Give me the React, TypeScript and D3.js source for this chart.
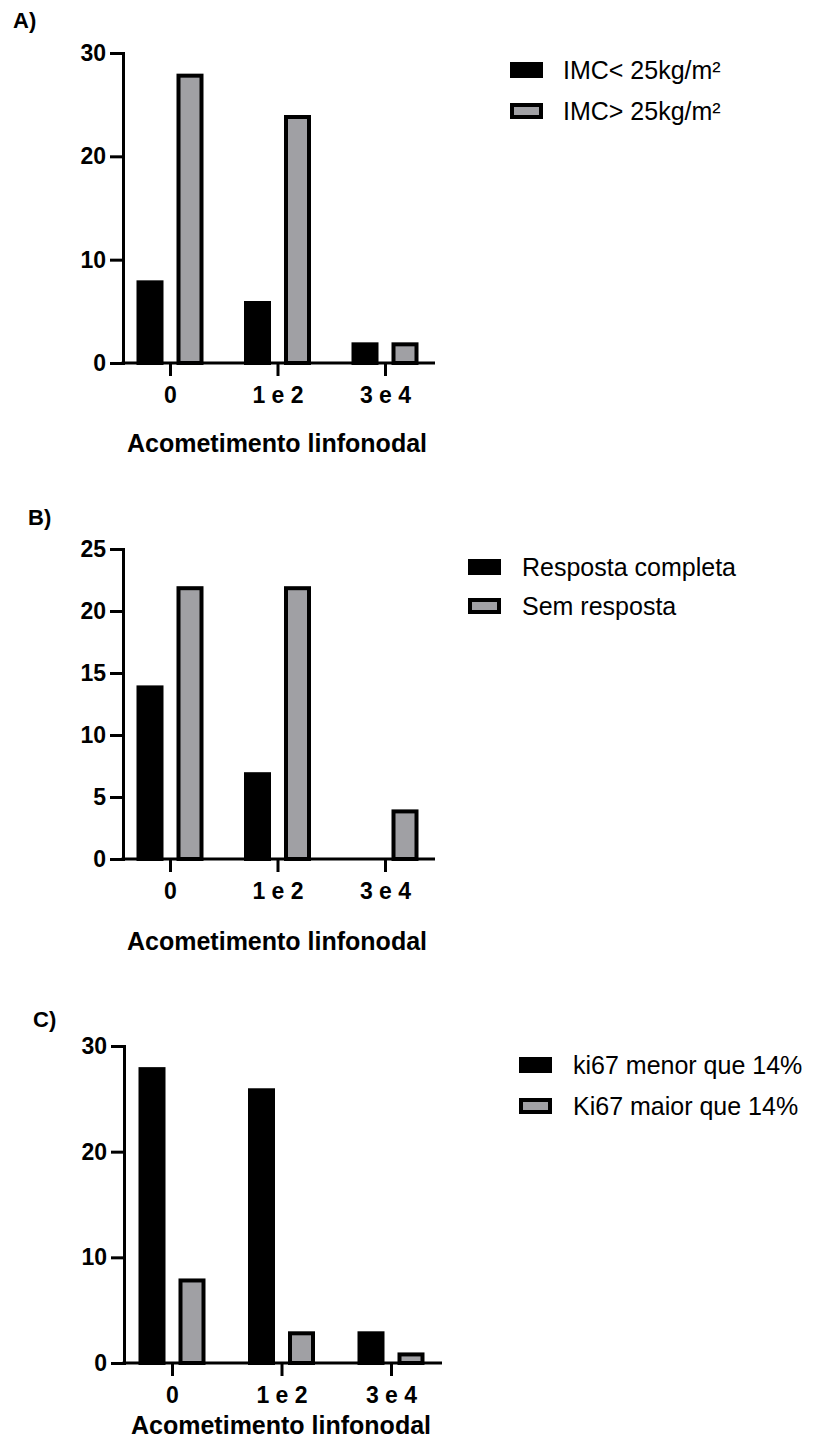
import React, { Component } from "react";
import * as d3 from "d3";

// categories on the x axis (number of affected lymph nodes)
const categories = ["0", "1 e 2", "3 e 4"];

// A) BMI
const imcSeries = ["IMC< 25kg/m²", "IMC> 25kg/m²"];
const imcLow = [8, 6, 2];
const imcHigh = [28, 24, 2];
const ticksA = [0, 10, 20, 30];

// B) response
const respostaSeries = ["Resposta completa", "Sem resposta"];
const respostaCompleta = [14, 7, 0];
const semResposta = [22, 22, 4];
const ticksB = [0, 5, 10, 15, 20, 25];

// C) ki67
const ki67Series = ["ki67 menor que 14%", "Ki67 maior que 14%"];
const ki67Menor = [28, 26, 3];
const ki67Maior = [8, 3, 1];
const ticksC = [0, 10, 20, 30];

const colors = ["#000000", "#a0a0a4"];
const FONT = "'Liberation Sans', Arial, Helvetica, sans-serif";

// layout of each panel (pixels)
const panels = [
  {
    label: "A)", labelX: 13, labelY: 28,
    series: imcSeries, values: [imcLow, imcHigh], ticks: ticksA,
    axisX: 123, y0: 363, yTop: 53, xFirst: 170, xLast: 385, xEnd: 435,
    titleY: 452, legX: 510, legY: 62, legTextX: 563, legGap: 41
  },
  {
    label: "B)", labelX: 28, labelY: 525,
    series: respostaSeries, values: [respostaCompleta, semResposta], ticks: ticksB,
    axisX: 123, y0: 859, yTop: 549, xFirst: 170, xLast: 385, xEnd: 435,
    titleY: 950, legX: 468, legY: 559, legTextX: 522, legGap: 39
  },
  {
    label: "C)", labelX: 33, labelY: 1027,
    series: ki67Series, values: [ki67Menor, ki67Maior], ticks: ticksC,
    axisX: 124, y0: 1363, yTop: 1046, xFirst: 172, xLast: 391, xEnd: 442,
    titleY: 1434, legX: 519, legY: 1057, legTextX: 573, legGap: 41
  }
];

class App extends Component {
  svgRef = React.createRef<SVGSVGElement>();

  componentDidMount() {
    this.renderChart();
  }
  componentDidUpdate() {
    this.renderChart();
  }

  renderChart = () => {
    const svg = d3.select(this.svgRef.current);
    svg.selectAll("*").remove();

    panels.forEach((p) => {
      const g = svg.append("g");

      const y = d3.scaleLinear()
        .domain([0, d3.max(p.ticks)])
        .range([p.y0, p.yTop]);

      const x = d3.scalePoint()
        .domain(categories)
        .range([p.xFirst, p.xLast]);

      const xs = d3.scaleBand()
        .domain(p.series)
        .range([-33.5, 33.5])
        .paddingInner(0.325)
        .paddingOuter(0);

      // bars
      p.series.forEach((s, si) => {
        const rows = categories.map((c, i) => ({ c, v: p.values[si][i] })).filter(d => d.v > 0);
        g.selectAll(null)
          .data(rows)
          .join("rect")
          .attr("x", d => x(d.c) + xs(s) + 2)
          .attr("y", d => y(d.v) + 2)
          .attr("width", xs.bandwidth() - 4)
          .attr("height", d => p.y0 - y(d.v) - 2)
          .attr("fill", colors[si])
          .attr("stroke", "#000")
          .attr("stroke-width", 4);
      });

      // y axis
      const yAxis = g.append("g")
        .attr("transform", `translate(${p.axisX},0)`)
        .call(d3.axisLeft(y).tickValues(p.ticks).tickSize(13).tickSizeOuter(0).tickPadding(4));
      yAxis.select(".domain").attr("stroke-width", 3).attr("stroke-linecap", "square");
      yAxis.selectAll(".tick line").attr("stroke-width", 3);
      yAxis.selectAll("text")
        .attr("font-family", FONT)
        .attr("font-size", 23)
        .attr("font-weight", "bold")
        .attr("fill", "#000");

      // x axis
      const xAxis = g.append("g")
        .attr("transform", `translate(0,${p.y0})`)
        .call(d3.axisBottom(x).tickSize(13).tickSizeOuter(0).tickPadding(11));
      xAxis.select(".domain").remove();
      xAxis.selectAll(".tick line").attr("stroke-width", 3);
      xAxis.selectAll("text")
        .attr("font-family", FONT)
        .attr("font-size", 23)
        .attr("font-weight", "bold")
        .attr("fill", "#000");
      g.append("line")
        .attr("x1", p.axisX - 1.5)
        .attr("x2", p.xEnd)
        .attr("y1", p.y0)
        .attr("y2", p.y0)
        .attr("stroke", "#000")
        .attr("stroke-width", 3);

      // axis title
      g.append("text")
        .attr("x", (p.axisX + p.xEnd) / 2 - 2)
        .attr("y", p.titleY)
        .attr("text-anchor", "middle")
        .attr("font-family", FONT)
        .attr("font-size", 25)
        .attr("font-weight", "bold")
        .text("Acometimento linfonodal");

      // panel label
      g.append("text")
        .attr("x", p.labelX)
        .attr("y", p.labelY)
        .attr("font-family", FONT)
        .attr("font-size", 22)
        .attr("font-weight", "bold")
        .text(p.label);

      // legend
      p.series.forEach((s, si) => {
        const ly = p.legY + si * p.legGap;
        g.append("rect")
          .attr("x", p.legX + 2)
          .attr("y", ly + 2)
          .attr("width", 29)
          .attr("height", 12)
          .attr("fill", colors[si])
          .attr("stroke", "#000")
          .attr("stroke-width", 4);
        g.append("text")
          .attr("x", p.legTextX)
          .attr("y", ly + 17)
          .attr("font-family", FONT)
          .attr("font-size", 25)
          .attr("fill", "#000")
          .text(s);
      });
    });
  };

  render() {
    return (
      <div>
        <svg
          ref={this.svgRef}
          width={817}
          height={1445}
          style={{ position: "absolute", left: 0, top: 0, background: "#fff" }}
        />
      </div>
    );
  }
}

export default App;
